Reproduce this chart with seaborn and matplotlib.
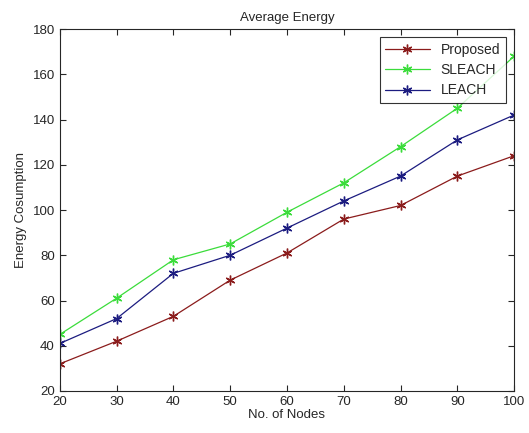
import matplotlib
matplotlib.use('Agg')
import matplotlib.pyplot as plt
import pandas as pd
import seaborn as sns

# values
nodes = [20, 30, 40, 50, 60, 70, 80, 90, 100]
proposed = [32, 42, 53, 69, 81, 96, 102, 115, 124]
sleach = [45, 61, 78, 85, 99, 112, 128, 145, 168]
leach = [41, 52, 72, 80, 92, 104, 115, 131, 142]

df = pd.DataFrame({
    'Nodes': nodes * 3,
    'Energy': proposed + sleach + leach,
    'Method': ['Proposed'] * 9 + ['SLEACH'] * 9 + ['LEACH'] * 9,
})

sns.set_style('ticks')
plt.rcParams['font.family'] = ['Liberation Sans', 'DejaVu Sans']
plt.rcParams['xtick.direction'] = 'in'
plt.rcParams['ytick.direction'] = 'in'

fig = plt.figure(figsize=(5.29, 4.33), dpi=100)
ax = fig.add_axes([0.113, 0.097, 0.859, 0.836])

palette = {'Proposed': '#8b1c1c', 'SLEACH': '#3bdc3b', 'LEACH': '#1c1c80'}
sns.lineplot(data=df, x='Nodes', y='Energy', hue='Method', palette=palette,
             marker=(6, 2, 0), markersize=7, markeredgewidth=1.0,
             linewidth=0.9, ax=ax)
# asterisk markers take the line colour
for ln in ax.lines:
    ln.set_markeredgecolor(ln.get_color())

ax.set_xlim(20, 100)
ax.set_ylim(20, 180)
ax.set_xticks(range(20, 101, 10))
ax.set_yticks(range(20, 181, 20))
ax.tick_params(labelsize=9.5, top=True, right=True, length=4, width=0.8)
for s in ax.spines.values():
    s.set_linewidth(0.8)
ax.set_xlabel('No. of Nodes', fontsize=9.5, labelpad=1)
ax.set_ylabel('Energy Cosumption', fontsize=9.5)
ax.set_title('Average Energy', fontsize=9.5, pad=6)

leg = ax.legend(loc='upper right', fontsize=10, frameon=True, fancybox=False,
                edgecolor='black', handlelength=3.2, borderaxespad=0.6,
                labelspacing=0.45)
leg.get_frame().set_linewidth(0.8)
for h in leg.legend_handles:
    h.set_marker((6, 2, 0))
    h.set_markersize(7)
    h.set_markeredgecolor(h.get_color())
    h.set_markevery([1])

fig.savefig('out.png', dpi=100)
